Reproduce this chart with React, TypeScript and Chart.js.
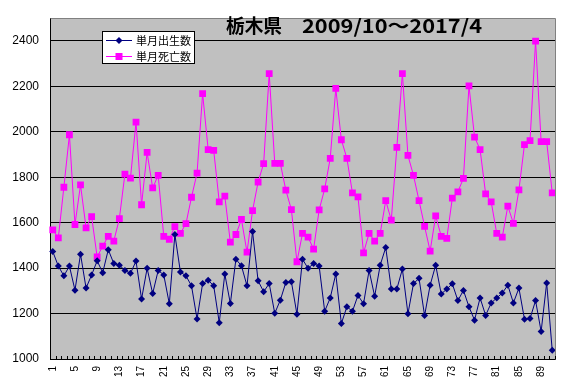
import React, { useEffect, useRef } from "react";
import { Chart, registerables } from "chart.js";

Chart.register(...registerables);

const TITLE_PREF = "栃木県";
const TITLE_RANGE = "2009/10～2017/4";
const SERIES_NAMES = ["単月出生数", "単月死亡数"];
const Y_TICKS = [1000, 1200, 1400, 1600, 1800, 2000, 2200, 2400];

const births = [
  1473, 1409, 1366, 1409, 1303, 1461, 1312, 1370, 1432, 1380,
  1481, 1420, 1413, 1390, 1377, 1431, 1264, 1399, 1288, 1390,
  1370, 1243, 1548, 1383, 1366, 1322, 1176, 1332, 1347, 1322,
  1160, 1374, 1244, 1439, 1410, 1322, 1561, 1344, 1296, 1332,
  1201, 1259, 1337, 1340, 1197, 1439, 1399, 1420, 1409, 1210,
  1269, 1374, 1156, 1230, 1210, 1280, 1243, 1390, 1276, 1413,
  1491, 1308, 1308, 1396, 1199, 1332, 1355, 1191, 1325, 1413,
  1286, 1308, 1331, 1257, 1302, 1230, 1171, 1269, 1192, 1246,
  1269, 1290, 1325, 1247, 1312, 1175, 1178, 1257, 1121, 1335,
  1038,
];

const deaths = [
  1568, 1533, 1756, 1987, 1592, 1766, 1577, 1627, 1449, 1497,
  1540, 1519, 1618, 1814, 1796, 2043, 1679, 1909, 1753, 1808,
  1540, 1527, 1583, 1553, 1596, 1712, 1818, 2168, 1922, 1918,
  1692, 1717, 1514, 1548, 1614, 1470, 1653, 1779, 1860, 2256,
  1861, 1861, 1743, 1657, 1428, 1553, 1536, 1484, 1656, 1749,
  1883, 2191, 1965, 1883, 1731, 1714, 1467, 1553, 1519, 1553,
  1697, 1611, 1931, 2256, 1896, 1808, 1697, 1584, 1475, 1630,
  1540, 1531, 1708, 1736, 1795, 2202, 1977, 1922, 1727, 1692,
  1553, 1536, 1673, 1597, 1744, 1944, 1961, 2399, 1957, 1957,
  1731,
];

const categories = births.map((_, i) => String(i + 1));

const NAVY = "#000080";
const MAGENTA = "#FF00FF";
const PLOT_BG = "#C0C0C0";

function drawDiamond(ctx: CanvasRenderingContext2D, x: number, y: number, r: number, color: string) {
  ctx.beginPath();
  ctx.moveTo(x, y - r);
  ctx.lineTo(x + r, y);
  ctx.lineTo(x, y + r);
  ctx.lineTo(x - r, y);
  ctx.closePath();
  ctx.fillStyle = color;
  ctx.fill();
}

function drawSquare(ctx: CanvasRenderingContext2D, x: number, y: number, s: number, color: string) {
  ctx.fillStyle = color;
  ctx.fillRect(x - s / 2, y - s / 2, s, s);
}

const decorPlugin = {
  id: "decor",
  beforeDraw(chart: any) {
    const { ctx, chartArea } = chart;
    ctx.save();
    ctx.fillStyle = "#FFFFFF";
    ctx.fillRect(0, 0, chart.width, chart.height);
    ctx.fillStyle = PLOT_BG;
    ctx.fillRect(chartArea.left, chartArea.top, chartArea.right - chartArea.left, chartArea.bottom - chartArea.top);
    ctx.restore();
  },
  afterDraw(chart: any) {
    const { ctx, chartArea } = chart;
    const xs = chart.scales.x;
    ctx.save();
    // top & right plot border
    ctx.strokeStyle = "#808080";
    ctx.lineWidth = 1;
    ctx.beginPath();
    ctx.moveTo(Math.round(chartArea.left) + 0.5, Math.round(chartArea.top) + 0.5);
    ctx.lineTo(Math.round(chartArea.right) + 0.5, Math.round(chartArea.top) + 0.5);
    ctx.lineTo(Math.round(chartArea.right) + 0.5, Math.round(chartArea.bottom) + 0.5);
    ctx.stroke();

    // inward category tick marks
    const step = xs.getPixelForValue(1) - xs.getPixelForValue(0);
    ctx.strokeStyle = "#000000";
    ctx.beginPath();
    for (let i = 0; i <= categories.length; i++) {
      const x = Math.round(xs.getPixelForValue(i) - step / 2) + 0.5;
      ctx.moveTo(x, chartArea.bottom);
      ctx.lineTo(x, chartArea.bottom - 3);
    }
    ctx.stroke();

    // rotated category labels (every 4th)
    ctx.fillStyle = "#000000";
    ctx.font = "10px 'Liberation Sans', Arial, sans-serif";
    ctx.textAlign = "right";
    ctx.textBaseline = "middle";
    for (let i = 0; i < categories.length; i += 4) {
      const x = xs.getPixelForValue(i);
      ctx.save();
      ctx.translate(x, chartArea.bottom + 7);
      ctx.rotate(-Math.PI / 2);
      ctx.fillText(categories[i], 0, 0);
      ctx.restore();
    }

    // title
    ctx.fillStyle = "#000000";
    ctx.textAlign = "left";
    ctx.textBaseline = "alphabetic";
    ctx.font = "bold 19px 'Noto Sans CJK JP', sans-serif";
    const drawFit = (text: string, x: number, y: number, w: number) => {
      const m = ctx.measureText(text).width;
      ctx.save();
      ctx.translate(x, y);
      ctx.scale(w / m, 1);
      ctx.fillText(text, 0, 0);
      ctx.restore();
    };
    drawFit(TITLE_PREF, 226, 33, 56);
    drawFit(TITLE_RANGE, 302, 33, 180);

    // legend
    const lx = 102.5, ly = 31.5, lw = 92, lh = 32;
    ctx.fillStyle = "#FFFFFF";
    ctx.fillRect(lx, ly, lw, lh);
    ctx.strokeStyle = "#000000";
    ctx.lineWidth = 1;
    ctx.strokeRect(lx, ly, lw, lh);
    const rows = [
      { y: 40.5, color: NAVY, kind: "diamond" },
      { y: 56.5, color: MAGENTA, kind: "square" },
    ];
    ctx.font = "11px 'Noto Sans CJK JP', sans-serif";
    ctx.textBaseline = "middle";
    rows.forEach((r, idx) => {
      ctx.strokeStyle = r.color;
      ctx.beginPath();
      ctx.moveTo(106, r.y);
      ctx.lineTo(132, r.y);
      ctx.stroke();
      if (r.kind === "diamond") drawDiamond(ctx, 119, r.y, 3.5, r.color);
      else drawSquare(ctx, 119, r.y, 7, r.color);
      ctx.fillStyle = "#000000";
      ctx.fillText(SERIES_NAMES[idx], 136, r.y + 0.5);
    });
    ctx.restore();
  },
};

export default function App() {
  const ref = useRef<HTMLCanvasElement | null>(null);
  useEffect(() => {
    document.body.style.margin = "0";
    const canvas = ref.current;
    if (!canvas) return;
    const chart = new Chart(canvas, {
      type: "line",
      data: {
        labels: categories,
        datasets: [
          {
            label: SERIES_NAMES[0],
            data: births,
            borderColor: NAVY,
            backgroundColor: NAVY,
            borderWidth: 1,
            pointStyle: "rectRot",
            pointRadius: 3.5,
            pointBorderWidth: 0,
            pointBackgroundColor: NAVY,
            tension: 0,
          },
          {
            label: SERIES_NAMES[1],
            data: deaths,
            borderColor: MAGENTA,
            backgroundColor: MAGENTA,
            borderWidth: 1,
            pointStyle: "rect",
            pointRadius: 4.8,
            pointBorderWidth: 0,
            pointBackgroundColor: MAGENTA,
            tension: 0,
          },
        ],
      },
      options: {
        animation: false,
        responsive: false,
        devicePixelRatio: 1,
        layout: { padding: { left: 0, top: 13, right: 9, bottom: 28 } },
        plugins: {
          legend: { display: false },
          title: { display: false },
          tooltip: { enabled: false },
        },
        scales: {
          x: {
            type: "category",
            offset: true,
            grid: { display: false, drawTicks: false },
            border: { display: true, color: "#000000", width: 1 },
            ticks: { display: false },
          },
          y: {
            min: 1000,
            max: 2500,
            afterBuildTicks: (scale: any) => {
              scale.ticks = Y_TICKS.map((v) => ({ value: v }));
            },
            afterFit: (scale: any) => {
              scale.width = 50;
            },
            grid: { color: "#000000", lineWidth: 1, drawTicks: false },
            border: { display: true, color: "#000000", width: 1 },
            ticks: {
              padding: 11,
              color: "#000000",
              font: { family: "'Liberation Sans', Arial, sans-serif", size: 12 },
              callback: (v: any) => String(v),
            },
          },
        },
      },
      plugins: [decorPlugin],
    } as any);
    return () => chart.destroy();
  }, []);
  return (
    <div style={{ width: 564, height: 387 }}>
      <canvas ref={ref} width={564} height={387} style={{ width: 564, height: 387, display: "block" }} />
    </div>
  );
}
